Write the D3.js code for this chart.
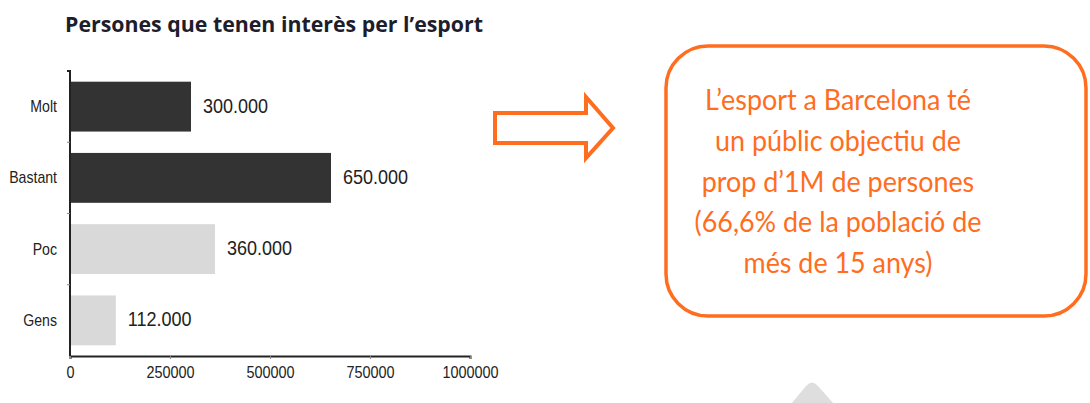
<!DOCTYPE html>
<html>
<head>
<meta charset="utf-8">
<script src="https://cdn.jsdelivr.net/npm/d3@7"></script>
<style>
  body { margin: 0; background: #fff; }
  svg { display: block; }
  .cat text, .xax text { font-family: "Liberation Sans", Arial, sans-serif; fill: #222; }
</style>
</head>
<body>
<svg id="chart" width="1090" height="403"></svg>
<script>
// data
const categories = ['Molt', 'Bastant', 'Poc', 'Gens'];
const values = [300000, 650000, 360000, 112000];
const valueLabels = ['300.000', '650.000', '360.000', '112.000'];
const barColors = ['#333333', '#333333', '#d9d9d9', '#d9d9d9'];
const xTicks = [0, 250000, 500000, 750000, 1000000];
const title = 'Persones que tenen interès per l\u2019esport';
const boxLines = ['L\u2019esport a Barcelona té', 'un públic objectiu de', 'prop d\u20191M de persones', '(66,6% de la població de', 'més de 15 anys)'];

const margin = { top: 71, left: 70 };
const width = 400, height = 285;
const orange = '#ff6d1f';

const svg = d3.select('#chart');

// squeeze text horizontally, there's no narrow font available
function narrow(sel, k) {
  sel.each(function() {
    const w = this.getComputedTextLength();
    d3.select(this).attr('textLength', w * k).attr('lengthAdjust', 'spacingAndGlyphs');
  });
}

svg.append('text')
  .attr('x', 65).attr('y', 32)
  .attr('font-family', '"Open Sans", Lato, sans-serif')
  .attr('font-weight', 700)
  .attr('font-size', 20.5)
  .attr('fill', '#1d1d2b')
  .attr('textLength', 418)
  .attr('lengthAdjust', 'spacingAndGlyphs')
  .text(title);

const g = svg.append('g').attr('transform', `translate(${margin.left},${margin.top})`);

const x = d3.scaleLinear().domain([0, 1000000]).range([0, width]);
const y = d3.scaleBand().domain(categories).range([0, height]).paddingInner(0.3).paddingOuter(0.15);

// bars
g.selectAll('rect.bar')
  .data(values)
  .enter().append('rect')
  .attr('class', 'bar')
  .attr('x', 1)
  .attr('y', (d, i) => y(categories[i]))
  .attr('width', d => x(d))
  .attr('height', y.bandwidth())
  .attr('fill', (d, i) => barColors[i]);

// value labels
g.selectAll('text.val')
  .data(values)
  .enter().append('text')
  .attr('class', 'val')
  .attr('x', d => x(d) + 13)
  .attr('y', (d, i) => y(categories[i]) + y.bandwidth() / 2)
  .attr('dy', '0.3em')
  .attr('font-family', '"Liberation Sans", Arial, sans-serif')
  .attr('font-size', 20)
  .attr('fill', '#222')
  .text((d, i) => valueLabels[i])
  .call(narrow, 0.9);

// y axis
const yAxis = g.append('g').attr('class', 'cat')
  .call(d3.axisLeft(y).tickSize(0).tickPadding(13));
yAxis.selectAll('text').attr('font-size', 17).call(narrow, 0.83);
yAxis.select('.domain').attr('stroke', '#222').attr('stroke-width', 2)
  .attr('d', `M-3,0H0V${height}`);
// ticks between bands
const step = height / categories.length;
yAxis.selectAll('line.sep')
  .data(d3.range(1, categories.length))
  .enter().append('line')
  .attr('class', 'sep')
  .attr('x1', -3).attr('x2', 0)
  .attr('y1', d => d * step).attr('y2', d => d * step)
  .attr('stroke', '#888');

// x axis
const xAxis = g.append('g').attr('class', 'xax')
  .attr('transform', `translate(0,${height})`)
  .call(d3.axisBottom(x).tickValues(xTicks).tickFormat(d3.format('d')).tickSize(3).tickSizeOuter(3).tickPadding(8));
xAxis.selectAll('text').attr('font-size', 16).call(narrow, 0.9);
xAxis.select('.domain').attr('stroke', '#222').attr('stroke-width', 2);
xAxis.selectAll('.tick line').attr('stroke', '#888');

// arrow
const arrowPts = [[495, 113], [586, 113], [586, 97], [613, 128], [586, 158], [586, 143], [495, 143]];
svg.append('path')
  .attr('d', d3.line()(arrowPts) + 'Z')
  .attr('fill', 'none')
  .attr('stroke', orange)
  .attr('stroke-width', 4)
  .attr('stroke-linejoin', 'miter');

// callout box
svg.append('rect')
  .attr('x', 666).attr('y', 46)
  .attr('width', 420).attr('height', 270)
  .attr('rx', 42).attr('ry', 42)
  .attr('fill', 'none')
  .attr('stroke', orange)
  .attr('stroke-width', 3.5);

svg.append('g').selectAll('text')
  .data(boxLines)
  .enter().append('text')
  .attr('x', 838)
  .attr('y', (d, i) => 110 + i * 40.8)
  .attr('text-anchor', 'middle')
  .attr('font-family', 'Lato, "Open Sans", sans-serif')
  .attr('font-size', 28)
  .attr('fill', orange)
  .text(d => d)
  .call(narrow, 0.96);

// faint watermark shape at bottom edge
svg.append('path')
  .attr('d', 'M792,403 L806,386 Q812,379 818,386 L833,403 Z')
  .attr('fill', '#dedede');
</script>
</body>
</html>
